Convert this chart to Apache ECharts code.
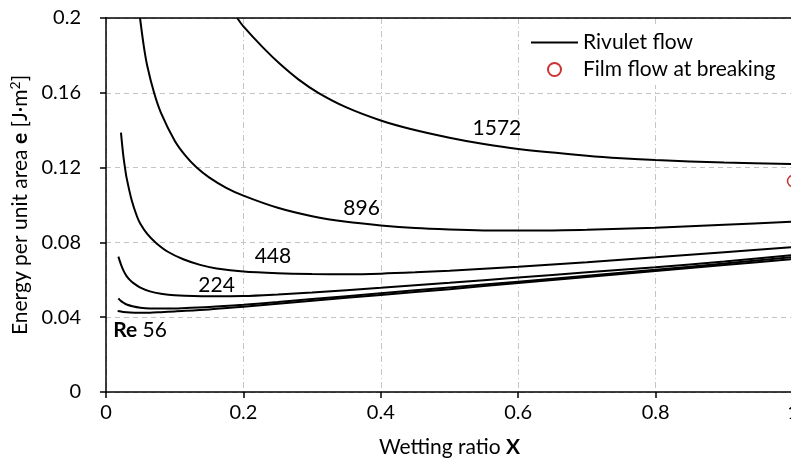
<!DOCTYPE html>
<html><head><meta charset="utf-8">
<script src="https://cdn.jsdelivr.net/npm/echarts@6/dist/echarts.min.js"></script>
<style>html,body{margin:0;padding:0;background:#fff}#c{width:791px;height:458px}</style>
</head><body><div id="c"></div>
<script>
// Rivulet flow curves: wetting ratio X and energy per unit area e, per Re
const x56 = [0.017,0.025,0.035,0.05,0.064,0.08,0.1,0.15,0.2,0.25,0.3,0.4,0.5,0.6,0.7,0.8,0.9,1.0];
const e56 = [0.0433,0.0428,0.0425,0.0424,0.0424,0.0427,0.0431,0.0441,0.0456,0.0472,0.0488,0.0519,0.0550,0.0583,0.0615,0.0647,0.0679,0.0711];
const x112 = [0.018,0.022,0.026,0.03,0.04,0.05,0.064,0.088,0.1,0.15,0.2,0.25,0.3,0.4,0.5,0.6,0.7,0.8,0.9,1.0];
const e112 = [0.0501,0.0486,0.0476,0.0468,0.0457,0.0451,0.0447,0.0446,0.0447,0.0454,0.0466,0.0481,0.0497,0.0528,0.0559,0.0590,0.0622,0.0654,0.0687,0.0721];
const x224 = [0.018,0.022,0.026,0.03,0.035,0.04,0.05,0.064,0.08,0.1,0.15,0.2,0.25,0.3,0.4,0.5,0.6,0.7,0.8,0.9,1.0];
const e224 = [0.0724,0.0680,0.0645,0.0620,0.0598,0.0582,0.0558,0.0538,0.0526,0.0518,0.0512,0.0513,0.0521,0.0532,0.0557,0.0584,0.0612,0.0640,0.0667,0.0698,0.0732];
const x448 = [0.0218,0.025,0.0276,0.03,0.0373,0.045,0.05,0.06,0.072,0.09,0.1125,0.137,0.161,0.2,0.25,0.3,0.35,0.4,0.45,0.5,0.6,0.7,0.8,0.9,1.0];
const e448 = [0.1387,0.127,0.120,0.1145,0.1027,0.094,0.090,0.0845,0.080,0.0750,0.0710,0.0680,0.0661,0.0644,0.0635,0.0631,0.0630,0.0633,0.0640,0.0649,0.0670,0.0694,0.0720,0.0747,0.0775];
const x896 = [0.0495,0.055,0.06,0.07,0.08,0.1,0.115,0.132,0.15,0.175,0.2,0.25,0.3,0.35,0.4,0.45,0.5,0.55,0.6,0.65,0.7,0.8,0.9,1.0];
const e896 = [0.2,0.185,0.1745,0.160,0.1493,0.1344,0.1267,0.120,0.1148,0.1092,0.1050,0.0985,0.0940,0.0910,0.0891,0.0877,0.0869,0.0864,0.0863,0.0864,0.0867,0.0879,0.0894,0.0911];
const x1572 = [0.191,0.2,0.229,0.253,0.28,0.309,0.35,0.4,0.442,0.5,0.55,0.6,0.7,0.75,0.8,0.9,1.0];
const e1572 = [0.2,0.1955,0.1840,0.1755,0.1672,0.1600,0.1522,0.1452,0.1408,0.1360,0.1326,0.1300,0.1264,0.1250,0.1240,0.1227,0.1219];
// Film flow at breaking
const filmX = [1.0];
const filmE = [0.1128];
// Curve annotations [X, e, text]
const curveLabels = [[0.569,0.1412,'1572'],[0.372,0.0984,'896'],[0.243,0.0727,'448'],[0.161,0.0572,'224'],[0.0495,0.0332,'{b|Re} 56']];
const xTicks = {min:0, max:1, interval:0.2};
const yTicks = {min:0, max:0.2, interval:0.04};

const FONT = 'Lato';
const FS = 21;
const zip = (xs, ys) => xs.map((v, i) => [v, ys[i]]);
const curves = [[x56,e56],[x112,e112],[x224,e224],[x448,e448],[x896,e896],[x1572,e1572]];

const lineSeries = curves.map(c => ({
  name: 'Rivulet flow', type: 'line', data: zip(c[0], c[1]),
  showSymbol: false, symbol: 'none', smooth: 0.3,
  lineStyle: {color: '#000', width: 2}, itemStyle: {color: '#000'},
  silent: true, z: 3
}));

const chart = echarts.init(document.getElementById('c'), null, {renderer: 'canvas'});
chart.setOption({
  animation: false,
  backgroundColor: '#fff',
  textStyle: {fontFamily: FONT},
  grid: {left: 106, right: -2, top: 18, bottom: 66, containLabel: false, outerBoundsMode: 'none'},
  legend: {
    orient: 'vertical', left: 525, top: 27, padding: [5, 8, 5, 5],
    backgroundColor: '#fff', itemWidth: 47, itemHeight: 13, itemGap: 6,
    textStyle: {fontFamily: FONT, fontSize: FS, color: '#000'},
    data: [
      {name: 'Rivulet flow', itemStyle: {color: 'rgba(0,0,0,0)', borderColor: 'rgba(0,0,0,0)', borderWidth: 0}},
      {name: 'Film flow at breaking', icon: 'circle'}
    ]
  },
  xAxis: [{
    type: 'value', min: xTicks.min, max: xTicks.max, interval: xTicks.interval,
    axisLine: {lineStyle: {color: '#000', width: 1.5}},
    axisTick: {show: true, length: 6, lineStyle: {color: '#000', width: 1.5}},
    axisLabel: {fontFamily: FONT, fontSize: 20, color: '#000', margin: 11},
    splitLine: {show: true, lineStyle: {color: '#c4c4c4', width: 1, type: [6, 3, 1, 3]}},
    name: '{n|Wetting ratio }{b|X}', nameLocation: 'middle', nameGap: 45,
    nameTextStyle: {rich: {n: {fontFamily: FONT, fontSize: FS, color: '#000'}, b: {fontFamily: FONT, fontSize: FS, fontWeight: 'bold', color: '#000'}}}
  }, {
    type: 'value', position: 'top', min: xTicks.min, max: xTicks.max,
    axisLine: {show: true, lineStyle: {color: '#000', width: 1.5}},
    axisTick: {show: false}, axisLabel: {show: false}, splitLine: {show: false}
  }],
  yAxis: {
    type: 'value', min: yTicks.min, max: yTicks.max, interval: yTicks.interval,
    axisLine: {show: true, lineStyle: {color: '#000', width: 1.5}},
    axisTick: {show: true, length: 6, lineStyle: {color: '#000', width: 1.5}},
    axisLabel: {fontFamily: FONT, fontSize: 20, color: '#000', margin: 25},
    splitLine: {show: true, lineStyle: {color: '#c4c4c4', width: 1, type: [5, 4]}},
    name: '{n|Energy per unit area }{b|e}{n| [J·m}{s|2}{n|]}', nameLocation: 'middle', nameGap: 74,
    nameTextStyle: {rich: {
      n: {fontFamily: FONT, fontSize: FS, color: '#000'},
      b: {fontFamily: FONT, fontSize: FS, fontWeight: 'bold', color: '#000'},
      s: {fontFamily: FONT, fontSize: 14, color: '#000', padding: [0, 0, 9, 0]}
    }}
  },
  series: lineSeries.concat([{
    name: 'Film flow at breaking', type: 'scatter', data: zip(filmX, filmE),
    symbol: 'circle', symbolSize: 11,
    itemStyle: {color: '#fff', borderColor: '#c00000', borderWidth: 1.5}, z: 4
  }, {
    name: 'labels', type: 'scatter', symbolSize: 0, silent: true, z: 5,
    data: curveLabels.map(d => ({value: [d[0], d[1]], label: {formatter: d[2]}})),
    label: {show: true, position: 'inside', color: '#000', opacity: 1, fontFamily: FONT, fontSize: FS,
      rich: {b: {fontFamily: FONT, fontSize: FS, fontWeight: 'bold', color: '#000'}}}
  }])
});
</script></body></html>
